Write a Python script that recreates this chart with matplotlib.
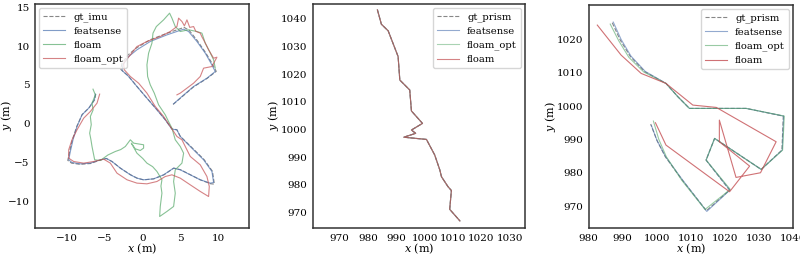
import numpy as np
import matplotlib
matplotlib.use('Agg')
import matplotlib.pyplot as plt

# ---- panel 1: imu dataset (x, y in m) ----
gt_imu_x = [-6.2, -6.35, -7.1, -8.0, -8.7, -9.3, -9.65, -9.9, -9.4, -8.3, -6.9, -5.6, -4.8, -4.05, -2.95, -1.6,
            -0.75, 0.1, 1.45, 2.8, 4.1, 5.0, 6.3, 7.6, 8.95, 9.45, 9.2, 8.1, 6.75, 5.85, 4.95, 4.5, 3.85, 2.95,
            1.85, 0.5, -0.85, -1.95, -2.9, -2.75, -1.95, -0.85, 0.95, 3.2, 5.45, 6.1, 7.2, 8.3, 9.1, 9.7, 8.5,
            6.7, 5.15, 4.0]
gt_imu_y = [3.85, 3.1, 2.05, 1.2, -0.3, -2.05, -3.55, -4.7, -5.05, -5.2, -5.1, -4.65, -4.45, -4.85, -5.7, -6.55,
            -6.98, -7.2, -7.07, -6.55, -5.69, -5.9, -6.55, -7.2, -7.7, -7.75, -6.1, -4.6, -3.3, -2.45, -1.6, -0.75,
            -0.65, 0.55, 1.85, 3.35, 4.9, 6.2, 7.0, 7.75, 8.85, 9.75, 10.8, 11.65, 12.4, 12.05, 10.7, 9.15, 7.85,
            6.75, 5.85, 4.75, 3.45, 2.5]

feat_imu_x = [-6.26, -6.39, -7.14, -8.02, -8.68, -9.21, -9.56, -9.78, -9.34, -8.24, -6.92, -5.6, -4.81, -4.06,
              -2.96, -1.64, -0.77, 0.11, 1.43, 2.75, 4.07, 4.95, 6.27, 7.59, 8.91, 9.35, 9.13, 8.03, 6.71, 5.83,
              4.95, 4.51, 3.85, 2.97, 1.87, 0.55, -0.77, -1.86, -2.74, -2.61, -1.86, -0.77, 0.99, 3.19, 5.39,
              6.05, 7.15, 8.25, 9.0, 9.57, 8.47, 6.71, 5.17, 4.07]
feat_imu_y = [3.82, 3.09, 2.02, 1.16, -0.34, -2.05, -3.55, -4.62, -4.97, -5.14, -5.05, -4.62, -4.45, -4.84,
              -5.69, -6.55, -6.98, -7.19, -7.07, -6.55, -5.69, -5.91, -6.55, -7.19, -7.62, -7.54, -6.12, -4.62,
              -3.34, -2.48, -1.62, -0.77, -0.68, 0.52, 1.8, 3.3, 4.8, 6.09, 6.86, 7.59, 8.66, 9.52, 10.59, 11.44,
              12.17, 11.87, 10.59, 9.09, 7.8, 6.73, 5.87, 4.8, 3.52, 2.57]

floam_imu_x = [-6.57, -6.26, -6.7, -6.55, -6.92, -6.8, -7.01, -6.85, -6.7, -6.35, -5.6, -4.6, -3.62, -2.9, -2.3,
               -1.64, -1.2, 0.11, 0.11, -0.33, -0.99, -1.51, -0.77, 0.0, 0.55, 1.3, 1.87, 2.53, 2.4, 2.53, 2.31,
               2.23, 3.19, 4.07, 4.29, 4.07, 4.29, 5.17, 5.39, 4.95, 4.29, 3.85, 3.4, 2.97, 2.09, 1.52, 0.99,
               0.64, 0.55, 0.77, 1.21, 1.35, 1.79, 2.75, 3.54, 3.85, 4.29, 4.95, 6.05, 7.15, 7.81, 8.25, 8.82,
               9.35, 9.57]
floam_imu_y = [4.46, 3.73, 2.66, 1.8, 0.95, -0.1, -1.2, -2.0, -2.91, -4.62, -4.71, -4.0, -3.55, -3.3, -2.91,
               -2.05, -2.48, -2.69, -3.12, -3.42, -3.21, -2.48, -3.77, -4.45, -5.05, -5.5, -6.12, -7.19, -8.0,
               -8.91, -10.62, -11.91, -11.26, -10.62, -8.91, -7.41, -5.91, -5.05, -3.77, -2.91, -2.05, -0.55,
               0.3, 1.16, 2.45, 3.95, 5.02, 6.09, 7.59, 9.09, 10.37, 11.66, 12.51, 13.37, 14.23, 13.59, 12.51,
               11.87, 12.09, 11.87, 11.66, 10.37, 9.3, 8.23, 7.16]

opt_imu_x = [-5.69, -6.04, -6.92, -7.8, -8.68, -9.34, -9.78, -9.78, -9.12, -7.8, -6.48, -5.16, -4.28, -3.4,
             -2.08, -0.77, 0.55, 1.87, 2.97, 3.85, 4.95, 6.27, 7.59, 8.69, 8.78, 8.47, 7.59, 6.27, 5.61, 5.17,
             4.51, 3.63, 2.75, 1.65, 0.55, -0.55, -1.64, -2.44, -2.52, -1.64, -0.77, 0.55, 2.31, 3.63, 4.51,
             4.73, 5.17, 5.5, 5.83, 6.2, 6.71, 7.0, 7.59, 7.8, 8.03, 8.4, 8.69, 9.35, 9.79, 9.13, 8.03, 7.59,
             6.71, 5.83, 4.95, 4.51]
opt_imu_y = [3.82, 2.66, 1.59, 0.73, -0.77, -2.05, -3.34, -4.41, -4.84, -5.05, -4.84, -4.54, -5.05, -6.34,
             -7.19, -7.62, -7.71, -7.41, -6.77, -6.55, -6.98, -7.84, -8.69, -9.34, -8.05, -6.77, -5.27, -4.19,
             -2.91, -2.05, -1.62, -0.34, 0.95, 2.23, 3.95, 5.23, 6.09, 6.95, 7.8, 8.87, 9.94, 10.59, 11.23,
             11.87, 12.51, 13.59, 13.16, 12.6, 13.37, 12.4, 12.51, 11.9, 11.66, 11.2, 10.8, 10.1, 9.52, 8.44,
             8.57, 7.37, 7.16, 6.09, 5.23, 4.59, 3.95, 3.73]

# ---- panel 2: prism dataset, all estimates overlap the ground truth ----
prism_a_x = [983.3, 984.7, 987.1, 990.6, 991.2, 994.7, 995.3, 999.2, 995.3, 996.8, 992.6, 1000.6, 1003.5,
             1005.3, 1005.9, 1008.2, 1009.4, 1008.8, 1012.4]
prism_a_y = [1043.3, 1038.1, 1035.7, 1026.4, 1017.9, 1014.3, 1006.7, 1002.2, 999.8, 998.6, 997.2, 996.4,
             990.8, 985.4, 982.9, 979.3, 977.9, 971.1, 966.9]

# ---- panel 3: prism dataset 2 ----
gt_b_x = [986.9, 989.2, 992.2, 996.5, 1002.7, 1006.2, 1009.6, 1017.5, 1026.3, 1037.2, 1036.8, 1030.7, 1017.0,
          1014.5, 1021.4, 1014.6, 1007.5, 1002.5, 1000.0, 998.2]
gt_b_y = [1025.0, 1019.9, 1014.9, 1010.3, 1006.8, 1002.8, 999.3, 999.3, 999.3, 997.0, 986.8, 981.0, 990.3,
          983.8, 974.8, 968.6, 977.8, 984.8, 989.8, 994.6]
feat_b_x = [987.2, 989.5, 992.4, 996.6, 1002.7, 1006.2, 1009.6, 1017.5, 1026.3, 1037.3, 1036.9, 1030.7,
            1017.0, 1014.5, 1021.5, 1014.7, 1007.6, 1002.6, 1000.1, 998.4]
feat_b_y = [1025.2, 1020.0, 1015.0, 1010.4, 1006.8, 1002.8, 999.3, 999.3, 999.3, 997.0, 986.8, 981.0, 990.3,
            983.8, 974.8, 968.4, 977.8, 984.8, 989.6, 994.2]
opt_b_x = [986.3, 988.8, 991.8, 996.2, 1002.7, 1006.2, 1009.6, 1017.5, 1026.3, 1037.5, 1037.0, 1030.7, 1017.0,
           1014.5, 1021.6, 1014.2, 1007.3, 1002.8, 1000.6, 999.0]
opt_b_y = [1024.6, 1019.6, 1014.6, 1010.2, 1006.8, 1002.8, 999.3, 999.3, 999.3, 997.0, 986.8, 981.0, 990.3,
           983.8, 975.0, 969.0, 977.8, 984.8, 990.0, 995.5]
floam_b_x = [982.5, 989.5, 995.4, 1002.7, 1010.6, 1017.5, 1035.1, 1030.5, 1023.3, 1018.4, 1018.4, 1027.3,
             1021.4, 1002.7, 999.6]
floam_b_y = [1024.3, 1015.3, 1009.8, 1006.8, 1000.3, 999.6, 989.3, 980.0, 978.6, 995.8, 989.3, 982.0, 974.3,
             988.3, 995.0]

plt.rcParams['font.family'] = 'DejaVu Serif'
plt.rcParams['mathtext.fontset'] = 'dejavuserif'
plt.rcParams['xtick.labelsize'] = 7.5
plt.rcParams['ytick.labelsize'] = 7.5
plt.rcParams['axes.labelsize'] = 8
plt.rcParams['legend.fontsize'] = 7.2

c_gt = '#555555'
c_blue = '#4c72b0'
c_green = '#55a868'
c_red = '#c44e52'
lw = 0.8

fig = plt.figure(figsize=(8, 2.54), dpi=100)
ax1 = fig.add_axes([0.044, 0.102, 0.2675, 0.882])
ax2 = fig.add_axes([0.391, 0.102, 0.265, 0.882])
ax3 = fig.add_axes([0.736, 0.102, 0.255, 0.878])

ax1.plot(gt_imu_x, gt_imu_y, '--', color=c_gt, lw=lw, alpha=0.7, label='gt_imu')
ax1.plot(feat_imu_x, feat_imu_y, color=c_blue, lw=lw, alpha=0.7, label='featsense')
ax1.plot(floam_imu_x, floam_imu_y, color=c_green, lw=lw, alpha=0.7, label='floam')
ax1.plot(opt_imu_x, opt_imu_y, color=c_red, lw=lw, alpha=0.7, label='floam_opt')
ax1.set_xlim(-14.2, 14.05)
ax1.set_ylim(-13.4, 15.4)
ax1.set_xticks([-10, -5, 0, 5, 10])
ax1.set_yticks([-10, -5, 0, 5, 10, 15])
ax1.legend(loc='upper left', borderaxespad=0.4, handlelength=2.2)

ax2.plot(prism_a_x, prism_a_y, '--', color=c_gt, lw=lw, alpha=0.7, label='gt_prism')
ax2.plot(prism_a_x, prism_a_y, color=c_blue, lw=lw, alpha=0.6, label='featsense')
ax2.plot(prism_a_x, prism_a_y, color=c_green, lw=lw, alpha=0.5, label='floam_opt')
ax2.plot(prism_a_x, prism_a_y, color=c_red, lw=lw, alpha=0.7, label='floam')
ax2.set_xlim(960.5, 1035.3)
ax2.set_ylim(964.3, 1045.4)
ax2.set_xticks(np.arange(970, 1031, 10))
ax2.set_yticks(np.arange(970, 1041, 10))
ax2.legend(loc='upper right', borderaxespad=0.4, handlelength=2.2)

ax3.plot(gt_b_x, gt_b_y, '--', color=c_gt, lw=lw, alpha=0.7, label='gt_prism')
ax3.plot(feat_b_x, feat_b_y, color=c_blue, lw=lw, alpha=0.6, label='featsense')
ax3.plot(opt_b_x, opt_b_y, color=c_green, lw=lw, alpha=0.6, label='floam_opt')
ax3.plot(floam_b_x, floam_b_y, color=c_red, lw=lw, alpha=0.8, label='floam')
ax3.set_xlim(980, 1040)
ax3.set_ylim(963.4, 1030.3)
ax3.set_xticks(np.arange(980, 1041, 10))
ax3.set_yticks(np.arange(970, 1021, 10))
ax3.legend(loc='upper right', borderaxespad=0.4, handlelength=2.2)

ylab_x = {ax1: -0.1, ax2: -0.148, ax3: -0.15}
for ax in (ax1, ax2, ax3):
    ax.set_xlabel('$x$ (m)')
    ax.set_ylabel('$y$ (m)')
    ax.xaxis.set_label_coords(0.5, -0.058)
    ax.yaxis.set_label_coords(ylab_x[ax], 0.5)
    ax.tick_params(length=0, pad=4)
    for s in ax.spines.values():
        s.set_color('#333333')
        s.set_linewidth(1.1)

fig.savefig('out.png', dpi=100)
